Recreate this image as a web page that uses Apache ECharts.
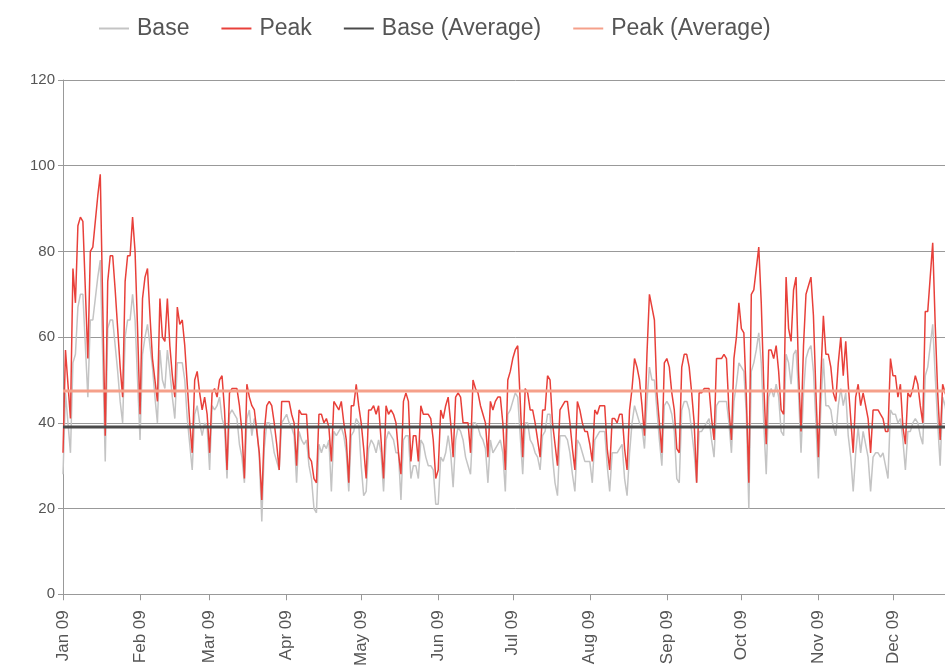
<!DOCTYPE html>
<html>
<head>
<meta charset="utf-8">
<script src="https://cdn.jsdelivr.net/npm/echarts@6/dist/echarts.min.js"></script>
<style>
html,body{margin:0;padding:0;background:#fff;overflow:hidden;width:945px;height:669px;}
#chart{width:1000px;height:669px;}
</style>
</head>
<body>
<div id="chart"></div>
<script>
// Daily values for 2009 (one array per month)
var peakJan = [33,57,49,41,76,68,86,88,87,71,55,80,81,87,93,98,67,37,73,79,79,71,62,53,46,73,79,79,88,80,62];
var baseJan = [28,47,40,33,54,56,67,70,70,58,46,64,64,69,74,78,55,31,62,64,64,58,52,45,40,60,64,64,70,64,50];
var peakFeb = [42,69,74,76,65,55,50,45,69,60,59,69,58,51,46,67,63,64,58,49,40,33,50,52,47,43,46,42];
var baseFeb = [36,56,60,63,58,53,46,40,57,50,48,57,52,46,41,54,54,54,50,41,35,29,42,44,40,37,40,39];
var peakMar = [33,47,48,46,50,51,43,29,47,48,48,48,44,38,27,49,46,44,43,38,33,22,38,44,45,44,40,35,29,45,45];
var baseMar = [29,44,43,44,46,41,39,27,42,43,42,41,35,32,26,41,43,37,41,39,32,17,34,40,40,37,33,31,29,40,41];
var peakApr = [45,45,42,40,30,43,42,42,42,32,31,27,26,42,42,40,41,39,31,45,44,43,45,40,36,26,44,44,49,44];
var baseApr = [42,40,39,37,26,38,36,35,36,30,27,20,19,35,33,35,34,36,24,38,37,38,39,37,33,24,37,38,41,40];
var peakMay = [40,34,27,43,43,44,42,44,36,27,44,42,43,42,40,33,28,45,47,45,31,37,37,31,44,42,42,42,41,36,27];
var baseMay = [30,23,24,34,36,35,33,36,33,24,36,38,37,36,33,33,22,36,37,37,27,30,30,27,36,35,32,30,30,29,21];
var peakJun = [29,43,41,44,46,40,32,46,47,46,40,40,40,33,50,48,47,44,42,40,32,45,43,45,46,46,40,29,50,52];
var baseJun = [21,32,31,33,37,33,25,36,39,38,36,32,30,28,40,40,39,37,36,34,26,36,33,34,35,36,33,24,42,43];
var peakJul = [55,57,58,45,32,48,47,43,43,40,36,32,43,43,51,50,40,35,30,43,44,45,45,40,34,29,45,43,40,38,38];
var baseJul = [45,47,46,37,28,40,40,36,35,33,32,29,37,38,42,42,32,26,23,37,37,37,36,33,28,24,36,35,33,31,31];
var peakAug = [35,31,43,42,44,44,44,34,29,41,41,40,42,42,34,29,43,48,55,53,50,44,37,56,70,67,64,47,40,33,54];
var baseAug = [31,26,36,37,38,38,38,30,24,33,33,33,34,35,27,23,33,40,44,42,40,39,34,45,53,50,50,43,36,30,44];
var peakSep = [55,53,47,43,34,33,53,56,56,53,47,40,26,47,47,48,48,48,41,36,55,55,55,56,55,43,36,55,60,68];
var baseSep = [45,44,42,38,27,26,43,45,45,43,38,33,26,38,38,39,40,41,36,32,44,45,45,45,45,40,33,45,49,54];
var peakOct = [62,61,46,26,70,71,76,81,68,49,35,57,57,55,58,52,43,42,74,62,59,71,74,52,38,58,70,72,74,65,47];
var baseOct = [53,52,42,20,52,54,57,61,54,40,28,46,48,46,49,46,38,37,56,54,49,56,57,47,33,47,55,57,58,52,40];
var peakNov = [32,51,65,56,56,53,47,45,54,60,51,59,49,41,33,46,49,44,47,44,41,33,43,43,43,42,41,38,38,55];
var baseNov = [27,44,55,44,44,43,39,37,44,48,44,47,37,32,24,33,39,33,38,35,32,24,32,33,33,32,33,30,27,43];
var peakDec = [51,51,46,49,39,35,47,46,48,51,49,44,40,66,66,74,82,63,47,36,49,47,45,38,30,32,30,36,38,37,33];
var baseDec = [42,42,40,41,36,29,38,38,40,41,40,37,35,51,53,58,63,51,40,30,46,44,40,34,27,28,27,32,33,32,29];

var baseAverage = 39.0;
var peakAverage = 47.4;

var monthNames = ['Jan','Feb','Mar','Apr','May','Jun','Jul','Aug','Sep','Oct','Nov','Dec'];
var yearLabel = '09';
var seriesNames = ['Base','Peak','Base (Average)','Peak (Average)'];

var peak = [].concat(peakJan,peakFeb,peakMar,peakApr,peakMay,peakJun,peakJul,peakAug,peakSep,peakOct,peakNov,peakDec);
var base = [].concat(baseJan,baseFeb,baseMar,baseApr,baseMay,baseJun,baseJul,baseAug,baseSep,baseOct,baseNov,baseDec);

// date categories for 2009
var dates = [];
var monthLengths = [31,28,31,30,31,30,31,31,30,31,30,31];
for (var m = 0; m < 12; m++) {
  for (var d = 1; d <= monthLengths[m]; d++) {
    dates.push('2009-' + (m < 9 ? '0' : '') + (m + 1) + '-' + (d < 10 ? '0' : '') + d);
  }
}
function isMonthStart(idx, val) { return val.slice(8) === '01'; }

var chart = echarts.init(document.getElementById('chart'), null, {renderer: 'canvas', width: 1000, height: 669});
var font = 'Liberation Sans, Arial, sans-serif';
chart.setOption({
  animation: false,
  backgroundColor: '#ffffff',
  textStyle: {fontFamily: font},
  legend: {
    top: 12,
    left: 94,
    itemWidth: 30,
    itemHeight: 2,
    itemGap: 32,
    icon: 'rect',
    textStyle: {fontSize: 23, color: '#555', fontFamily: font, padding: [0, 0, 0, 3]},
    data: seriesNames
  },
  grid: {left: 63, top: 80, width: 904.5, height: 516, containLabel: false},
  xAxis: {
    type: 'category',
    boundaryGap: false,
    data: dates,
    axisLine: {lineStyle: {color: '#999', width: 1}},
    axisTick: {show: true, interval: isMonthStart, length: 6, lineStyle: {color: '#999'}},
    axisLabel: {
      interval: isMonthStart,
      rotate: 90,
      fontSize: 17,
      color: '#555',
      margin: 16,
      fontFamily: font,
      formatter: function (v) { return monthNames[parseInt(v.slice(5,7),10)-1] + ' ' + yearLabel; }
    },
    splitLine: {show: false}
  },
  yAxis: {
    type: 'value',
    min: 0, max: 120, interval: 20,
    axisLine: {show: true, lineStyle: {color: '#999', width: 1}},
    axisTick: {show: true, length: 5, lineStyle: {color: '#999'}},
    axisLabel: {fontSize: 15, color: '#555', margin: 8, fontFamily: font},
    splitLine: {show: true, lineStyle: {color: '#999', width: 1}}
  },
  series: [
    {name: seriesNames[0], type: 'line', data: base, showSymbol: false, symbol: 'none',
     color: '#c4c4c4', lineStyle: {width: 1.5, color: '#c4c4c4'}, z: 2},
    {name: seriesNames[1], type: 'line', data: peak, showSymbol: false, symbol: 'none',
     color: '#e8403a', lineStyle: {width: 1.5, color: '#e8403a'}, z: 3},
    {name: seriesNames[2], type: 'line', symbol: 'none', showSymbol: false,
     data: [[dates[0], baseAverage], [dates[dates.length-1], baseAverage]],
     color: '#4a4a4a', lineStyle: {width: 3, color: '#4a4a4a'}, z: 4},
    {name: seriesNames[3], type: 'line', symbol: 'none', showSymbol: false,
     data: [[dates[0], peakAverage], [dates[dates.length-1], peakAverage]],
     color: '#f5a08a', lineStyle: {width: 3, color: '#f5a08a'}, z: 5}
  ]
});
</script>
</body>
</html>
